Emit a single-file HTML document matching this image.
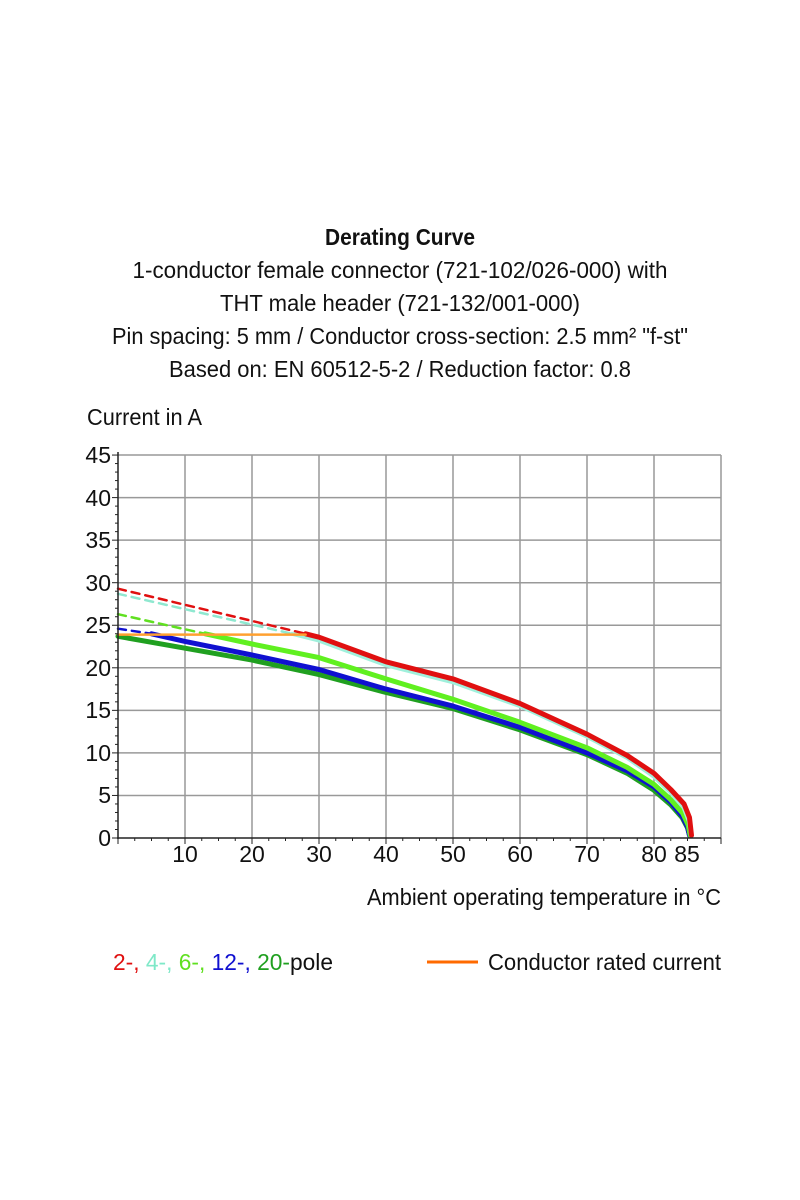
<!DOCTYPE html>
<html><head><meta charset="utf-8"><style>
html,body{margin:0;padding:0;background:#fff}
svg{display:block}
text{font-family:"Liberation Sans Narrow","Liberation Sans",sans-serif;fill:#111}
</style></head><body>
<svg id="s" width="800" height="1200" viewBox="0 0 800 1200" xmlns="http://www.w3.org/2000/svg">
<text x="400" y="245" font-size="23" font-weight="bold" text-anchor="middle" textLength="150" lengthAdjust="spacingAndGlyphs">Derating Curve</text>
<text x="400" y="278" font-size="23" text-anchor="middle" textLength="535" lengthAdjust="spacingAndGlyphs">1-conductor female connector (721-102/026-000) with</text>
<text x="400" y="311" font-size="23" text-anchor="middle" textLength="360" lengthAdjust="spacingAndGlyphs">THT male header (721-132/001-000)</text>
<text x="400" y="344" font-size="23" text-anchor="middle" textLength="576" lengthAdjust="spacingAndGlyphs">Pin spacing: 5 mm / Conductor cross-section: 2.5 mm² "f-st"</text>
<text x="400" y="377" font-size="23" text-anchor="middle" textLength="462" lengthAdjust="spacingAndGlyphs">Based on: EN 60512-5-2 / Reduction factor: 0.8</text>
<text x="87" y="425" font-size="23" textLength="115" lengthAdjust="spacingAndGlyphs">Current in A</text>
<g id="grid" stroke="#999" stroke-width="1.5"></g>
<g id="curves" fill="none" stroke-linejoin="round" stroke-linecap="round"></g>
<g id="axes" stroke="#222" stroke-width="1.5"></g>
<g font-size="23" text-anchor="end">
<text x="111" y="463">45</text><text x="111" y="506">40</text><text x="111" y="548">35</text>
<text x="111" y="591">30</text><text x="111" y="633">25</text><text x="111" y="676">20</text>
<text x="111" y="718">15</text><text x="111" y="761">10</text><text x="111" y="803">5</text>
<text x="111" y="846">0</text>
</g>
<g font-size="23" text-anchor="middle">
<text x="185" y="862">10</text><text x="252" y="862">20</text><text x="319" y="862">30</text>
<text x="386" y="862">40</text><text x="453" y="862">50</text><text x="520" y="862">60</text>
<text x="587" y="862">70</text><text x="654" y="862">80</text><text x="687" y="862">85</text>
</g>
<text x="721" y="905" font-size="23" text-anchor="end" textLength="354" lengthAdjust="spacingAndGlyphs">Ambient operating temperature in °C</text>
<text x="113" y="970" font-size="23" textLength="220" lengthAdjust="spacingAndGlyphs"><tspan fill="#e01010">2-,</tspan> <tspan fill="#7fe8c8">4-,</tspan> <tspan fill="#60e020">6-,</tspan> <tspan fill="#1010d0">12-,</tspan> <tspan fill="#20a020">20-</tspan><tspan>pole</tspan></text>
<line x1="427" y1="962" x2="478" y2="962" stroke="#ff6a00" stroke-width="3"/>
<text x="488" y="970" font-size="23" textLength="233" lengthAdjust="spacingAndGlyphs">Conductor rated current</text>
</svg>
<script>
var X=function(t){return 118+t*6.7},Y=function(i){return 838-i*8.51};
var NS="http://www.w3.org/2000/svg";
function el(p,tag,a){var e=document.createElementNS(NS,tag);for(var k in a)e.setAttribute(k,a[k]);p.appendChild(e);return e;}
var g=document.getElementById('grid');
for(var t=10;t<=90;t+=10){var x=t==90?721:X(t);el(g,'line',{x1:x,y1:455,x2:x,y2:838});}
for(var i=5;i<=45;i+=5)el(g,'line',{x1:118,y1:Y(i),x2:721,y2:Y(i)});
var a=document.getElementById('axes');
el(a,'line',{x1:118,y1:452,x2:118,y2:839});el(a,'line',{x1:117,y1:838,x2:721,y2:838});
for(var i=0;i<=45;i++){el(a,'line',{x1:i%5?115:112,y1:Y(i),x2:118,y2:Y(i),'stroke-width':1});}
for(var t=0;t<=90;t+=2.5){el(a,'line',{x1:X(t),y1:838,x2:X(t),y2:t%10?841:844,'stroke-width':1});}
var c=document.getElementById('curves');
function pts(arr){return arr.map(function(p){return X(p[0]).toFixed(1)+','+Y(p[1]).toFixed(1)}).join(' ');}
function line(arr,col,w,dash){var o={points:pts(arr),stroke:col,'stroke-width':w};if(dash)o['stroke-dasharray']=dash;el(c,'polyline',o);}
line([[0,29.3],[28,24]],'#e01010',2.5,'8,6');
line([[0,28.7],[26,24]],'#8fe8d0',2.5,'8,6');
line([[0,26.3],[13,24]],'#60e020',2.5,'8,6');
line([[0,24.6],[5,24]],'#1010d0',2.5,'8,6');
line([[0,23.7],[10,22.3],[20,20.9],[30,19.2],[40,17.1],[50,15.2],[60,12.7],[70,9.8],[76,7.6],[80,5.6],[82.5,3.9],[84.2,2.4],[85,1.2],[85.3,0.3]],'#20a020',5);
line([[5,24],[10,23.1],[20,21.5],[30,19.8],[40,17.5],[50,15.5],[60,13],[70,10],[76,7.9],[80,6],[82.5,4.2],[84.2,2.6],[85,1.3],[85.3,0.3]],'#1010d0',5);
line([[13,24],[20,22.8],[30,21.2],[40,18.7],[50,16.3],[60,13.6],[70,10.6],[76,8.3],[80,6.3],[82.5,4.5],[84.3,2.9],[85.1,1.5],[85.4,0.3]],'#60f020',5);
line([[26,24],[30,23.2],[40,20.3],[50,18.3],[60,15.5],[70,11.9],[76,9.4],[80,7.2],[82.5,5.3],[84.4,3.6],[85.2,2],[85.5,0.3]],'#a0f0dc',4);
line([[28,24],[30,23.6],[40,20.7],[50,18.7],[60,15.8],[70,12.2],[76,9.7],[80,7.6],[82.5,5.7],[84.5,4],[85.3,2.4],[85.6,0.3]],'#e01010',5);
line([[0,23.9],[28,23.9]],'#ffa030',2.5);
</script>
</body></html>
